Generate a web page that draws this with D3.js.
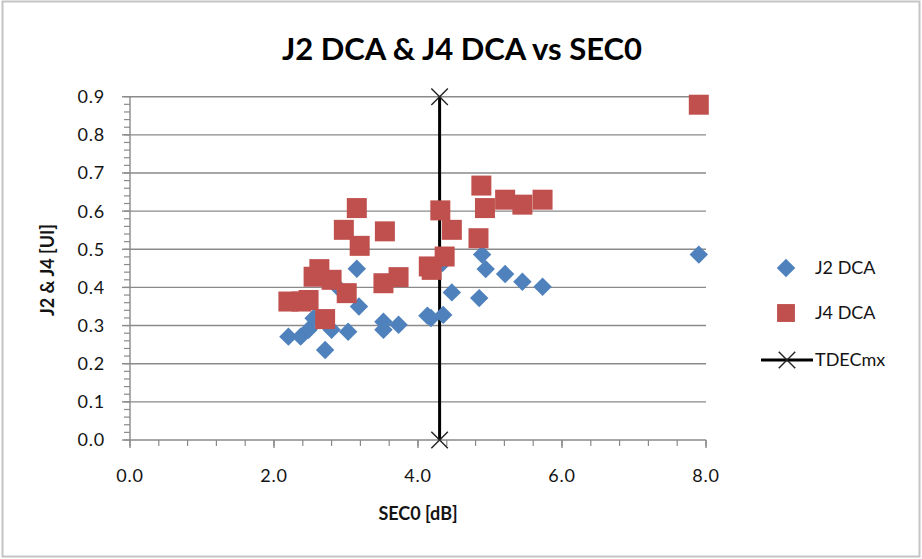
<!DOCTYPE html>
<html><head><meta charset="utf-8">
<script src="https://cdn.jsdelivr.net/npm/d3@7"></script>
<style>body{margin:0;background:#fff}svg{display:block}text{font-family:Lato,"Open Sans",sans-serif}</style>
</head><body>
<svg id="c" width="922" height="559"></svg>
<script>
const j2x = [2.20,2.37,2.48,2.55,2.71,2.80,2.89,3.03,3.15,3.18,3.52,3.52,3.73,4.13,4.18,4.35,4.34,4.47,4.85,4.89,4.94,5.21,5.45,5.73,7.90];
const j2y = [0.271,0.271,0.289,0.319,0.236,0.289,0.400,0.284,0.449,0.350,0.310,0.289,0.302,0.326,0.320,0.328,0.464,0.387,0.372,0.486,0.448,0.435,0.415,0.402,0.486];
const j4x = [2.20,2.38,2.48,2.63,2.55,2.71,2.80,3.01,2.97,3.15,3.19,3.54,3.52,3.73,4.15,4.19,4.37,4.31,4.47,4.84,4.88,4.93,5.21,5.45,5.73,7.90];
const j4y = [0.363,0.363,0.367,0.448,0.428,0.317,0.420,0.385,0.551,0.608,0.509,0.547,0.411,0.427,0.455,0.446,0.481,0.602,0.551,0.529,0.667,0.608,0.630,0.617,0.630,0.879];
const tdecX = [4.30,4.30];
const tdecY = [0.0,0.9];
const xTicks = [0,2,4,6,8];
const yTicks = [0,0.1,0.2,0.3,0.4,0.5,0.6,0.7,0.8,0.9];
const seriesNames = ["J2 DCA","J4 DCA","TDECmx"];
const title = "J2 DCA & J4 DCA vs SEC0";
const xTitle = "SEC0 [dB]";
const yTitle = "J2 & J4 [UI]";

const svg = d3.select("#c");
const gridC = "#8a8a8a", blue = "#4F81BD", red = "#C0504D", txt = "#141414";
svg.append("rect").attr("x",2.5).attr("y",1.5).attr("width",917).attr("height",555)
  .attr("fill","#fff").attr("stroke","#c4c4c4").attr("stroke-width",2);

const x = d3.scaleLinear().domain([0,8]).range([130,706]);
const y = d3.scaleLinear().domain([0,0.9]).range([440,96.7]);

// gridlines
svg.append("g").selectAll("line").data(yTicks.filter(d=>d>0)).join("line")
  .attr("x1",x(0)).attr("x2",x(8)).attr("y1",d=>y(d)).attr("y2",d=>y(d))
  .attr("stroke",gridC).attr("stroke-width",1.4);

// y axis
const yMinor = d3.range(0,0.9001,0.02);
const gy = svg.append("g");
gy.selectAll("line.mn").data(yMinor).join("line").attr("class","mn")
  .attr("x1",x(0)-6).attr("x2",x(0)).attr("y1",d=>y(d)).attr("y2",d=>y(d))
  .attr("stroke",gridC).attr("stroke-width",1.2);
gy.selectAll("line.mj").data(yTicks).join("line").attr("class","mj")
  .attr("x1",x(0)-8).attr("x2",x(0)).attr("y1",d=>y(d)).attr("y2",d=>y(d))
  .attr("stroke",gridC).attr("stroke-width",1.4);
gy.append("line").attr("x1",x(0)).attr("x2",x(0)).attr("y1",y(0)).attr("y2",y(0.9))
  .attr("stroke",gridC).attr("stroke-width",1.4);
gy.selectAll("text").data(yTicks).join("text")
  .attr("x",105).attr("y",d=>y(d)).attr("dy","0.36em").attr("text-anchor","end")
  .attr("font-size",18).attr("fill",txt).attr("letter-spacing",0.8).text(d=>d3.format(".1f")(d));

// x axis
const xMinor = d3.range(0,8.001,0.4);
const gx = svg.append("g");
gx.append("line").attr("x1",x(0)).attr("x2",x(8)).attr("y1",y(0)).attr("y2",y(0))
  .attr("stroke",gridC).attr("stroke-width",1.4);
gx.selectAll("line.mn").data(xMinor).join("line").attr("class","mn")
  .attr("x1",d=>x(d)).attr("x2",d=>x(d)).attr("y1",y(0)).attr("y2",y(0)+6)
  .attr("stroke",gridC).attr("stroke-width",1.2);
gx.selectAll("line.mj").data(xTicks).join("line").attr("class","mj")
  .attr("x1",d=>x(d)).attr("x2",d=>x(d)).attr("y1",y(0)).attr("y2",y(0)+8)
  .attr("stroke",gridC).attr("stroke-width",1.4);
gx.selectAll("text").data(xTicks).join("text")
  .attr("x",d=>x(d)).attr("y",481.5).attr("text-anchor","middle")
  .attr("font-size",18).attr("fill",txt).attr("letter-spacing",0.8).text(d=>d3.format(".1f")(d));

// TDECmx (drawn beneath markers)
const line = d3.line().x(d=>x(d[0])).y(d=>y(d[1]));
const tdec = tdecX.map((v,i)=>[v,tdecY[i]]);
svg.append("path").attr("d",line(tdec)).attr("stroke","#000").attr("stroke-width",3).attr("fill","none");
const cross = d3.symbol().type(d3.symbolX).size(180);
svg.append("g").selectAll("path").data(tdec).join("path")
  .attr("transform",d=>`translate(${x(d[0])},${y(d[1])})`).attr("d",cross())
  .attr("fill","none").attr("stroke","#222").attr("stroke-width",1.4);

// J2 diamonds
const sq = d3.symbol().type(d3.symbolSquare);
svg.append("g").selectAll("path").data(j2x.map((v,i)=>[v,j2y[i]])).join("path")
  .attr("transform",d=>`translate(${x(d[0])},${y(d[1])}) rotate(45)`).attr("d",sq.size(170)())
  .attr("fill",blue);
// J4 squares
svg.append("g").selectAll("path").data(j4x.map((v,i)=>[v,j4y[i]])).join("path")
  .attr("transform",d=>`translate(${x(d[0])},${y(d[1])})`).attr("d",sq.size(400)())
  .attr("fill",red);

// titles
svg.append("text").attr("x",462).attr("y",60).attr("text-anchor","middle")
  .attr("font-size",31).attr("font-weight","bold").attr("fill","#000").text(title);
svg.append("text").attr("x",418).attr("y",520).attr("text-anchor","middle")
  .attr("font-size",18).attr("font-weight","bold").attr("fill",txt).text(xTitle);
svg.append("text").attr("transform","translate(54,270) rotate(-90)").attr("text-anchor","middle")
  .attr("font-size",18).attr("font-weight","bold").attr("fill",txt).text(yTitle);

// legend
const lg = svg.append("g");
lg.append("path").attr("transform","translate(786,268) rotate(45)").attr("d",sq.size(170)()).attr("fill",blue);
lg.append("path").attr("transform","translate(786,313)").attr("d",sq.size(320)()).attr("fill",red);
lg.append("line").attr("x1",761).attr("x2",813).attr("y1",360).attr("y2",360).attr("stroke","#000").attr("stroke-width",3);
lg.append("path").attr("transform","translate(787,360)").attr("d",cross()).attr("fill","none").attr("stroke","#222").attr("stroke-width",1.4);
lg.selectAll("text").data(seriesNames).join("text")
  .attr("x",815).attr("y",(d,i)=>[268,313,360][i]).attr("dy","0.36em")
  .attr("font-size",18).attr("fill",txt).text(d=>d);
</script>
</body></html>
